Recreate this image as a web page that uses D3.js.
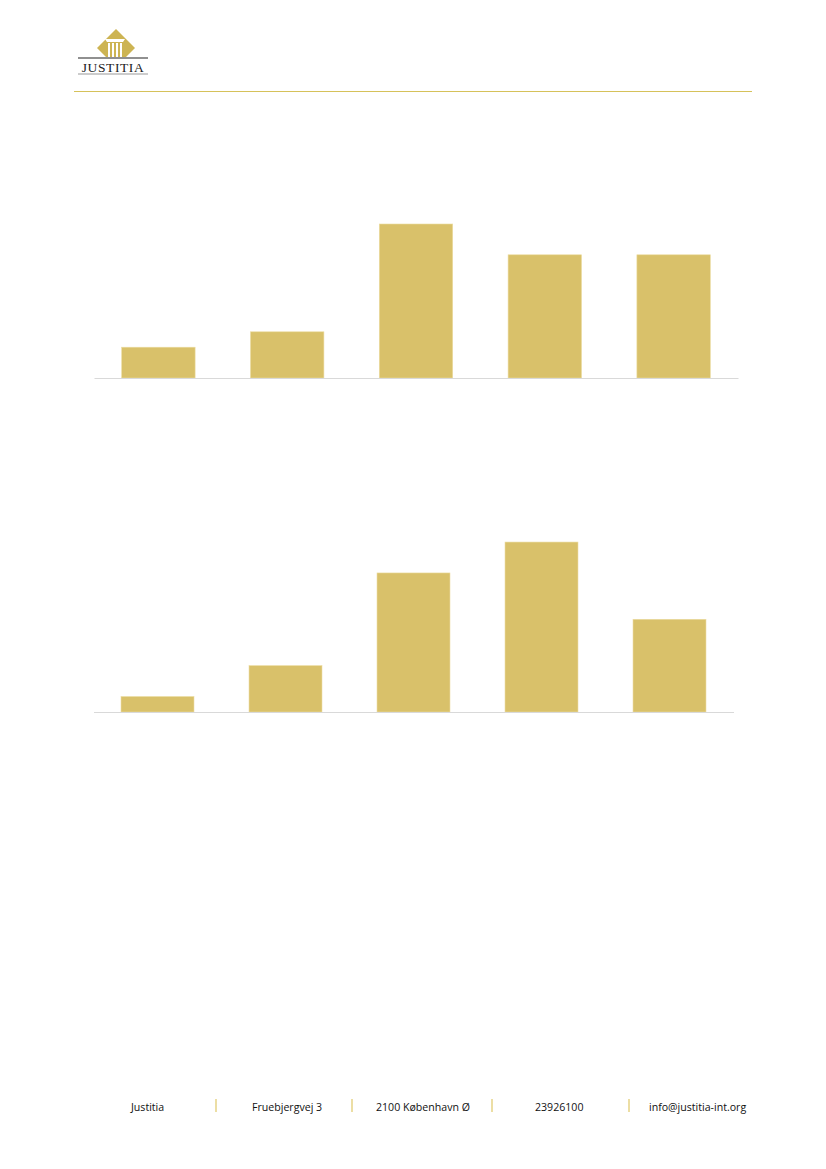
<!DOCTYPE html>
<html>
<head>
<meta charset="utf-8">
<script src="https://cdn.jsdelivr.net/npm/d3@7"></script>
<style>
  html, body { margin: 0; padding: 0; background: #fff; }
  svg { display: block; }
</style>
</head>
<body>
<svg id="page" width="826" height="1169"></svg>
<script>
// ---- data ----
const categories1 = ["1", "2", "3", "4", "5"];
const values1 = [2, 3, 10, 8, 8];
const categories2 = ["1", "2", "3", "4", "5"];
const values2 = [1, 3, 9, 11, 6];
const footerItems = ["Justitia", "Fruebjergvej 3", "2100 København Ø", "23926100", "info@justitia-int.org"];

const gold = "#d9c16a";
const svg = d3.select("#page");

// ---- header logo ----
const logo = svg.append("g");
logo.append("clipPath").attr("id", "dclip")
  .append("rect").attr("x", 60).attr("y", 20).attr("width", 120).attr("height", 37);
logo.append("polygon")
  .attr("points", "116,29 135,48 116,67 97,48")
  .attr("fill", "#cdb453")
  .attr("clip-path", "url(#dclip)");
// columns
const colG = logo.append("g").attr("clip-path", "url(#dclip)");
colG.append("path").attr("d", "M105,39 L125,39 L123,42 L107,42 Z").attr("fill", "#fff");
[108, 112, 116, 120].forEach(x => {
  colG.append("rect").attr("x", x).attr("y", 43).attr("width", 2).attr("height", 14).attr("fill", "#fff");
});
logo.append("line").attr("x1", 78).attr("x2", 148).attr("y1", 58).attr("y2", 58)
  .attr("stroke", "#222").attr("stroke-width", 1.2);
logo.append("text").attr("x", 113).attr("y", 71.5).attr("text-anchor", "middle")
  .attr("font-family", "Liberation Serif, DejaVu Serif, serif").attr("font-size", 13.5)
  .attr("fill", "#222").attr("letter-spacing", 0.6).text("JUSTITIA");
logo.append("line").attr("x1", 78).attr("x2", 148).attr("y1", 74).attr("y2", 74)
  .attr("stroke", "#999").attr("stroke-width", 1);

// header rule
svg.append("line").attr("x1", 74).attr("x2", 752).attr("y1", 91.5).attr("y2", 91.5)
  .attr("stroke", "#d6c25a").attr("stroke-width", 1);

// ---- bar charts ----
function barChart(cats, vals, x0, x1, yBase, unitPx) {
  const g = svg.append("g");
  const x = d3.scaleBand().domain(cats).range([x0, x1]).paddingInner(0.43).paddingOuter(0.215);
  const y = d3.scaleLinear().domain([0, 10]).range([yBase, yBase - unitPx * 10]);
  g.selectAll("rect.bar").data(vals).join("rect")
    .attr("class", "bar")
    .attr("x", (d, i) => x(cats[i]))
    .attr("width", x.bandwidth())
    .attr("y", d => y(d))
    .attr("height", d => yBase - y(d))
    .attr("fill", gold)
    .attr("stroke", "#ecdca0").attr("stroke-width", 0.6);
  const axis = g.append("g").attr("transform", `translate(0,${yBase})`)
    .call(d3.axisBottom(x).tickSize(0).tickFormat(""));
  axis.select(".domain").attr("stroke", "#d9d9d9").attr("stroke-width", 1.2);
}
barChart(categories1, values1, 94, 738, 378, 15.4);
barChart(categories2, values2, 93.5, 733.5, 712, 15.45);

// ---- footer ----
const fx = [131, 252, 376, 535, 649];
const sepX = [216, 352, 492, 629];
const foot = svg.append("g");
foot.selectAll("text").data(footerItems).join("text")
  .attr("x", (d, i) => fx[i]).attr("y", 1111)
  .attr("font-family", "Open Sans, Noto Sans, sans-serif").attr("font-size", 10.6)
  .attr("fill", "#111").text(d => d);
foot.selectAll("line").data(sepX).join("line")
  .attr("x1", d => d).attr("x2", d => d).attr("y1", 1099).attr("y2", 1112)
  .attr("stroke", "#e2cc73").attr("stroke-width", 1.3);
</script>
</body>
</html>
